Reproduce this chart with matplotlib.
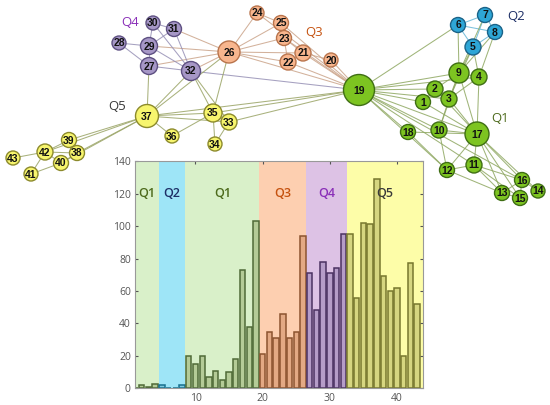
import matplotlib
matplotlib.use("Agg")
import matplotlib.pyplot as plt
import numpy as np

# ---------------- data ----------------
nodes = list(range(1, 44))
groups = (["Q1"] * 4 + ["Q2"] * 4 + ["Q1"] * 11 + ["Q3"] * 7 + ["Q4"] * 6 + ["Q5"] * 11)
hist_values = [0, 2, 1, 3, 2, 0, 0, 2, 20, 15, 20, 7, 11, 5, 10, 18, 73, 38, 103,
               21, 35, 31, 46, 31, 35, 94,
               71, 48, 78, 71, 74, 95,
               95, 56, 102, 101, 129, 69, 60, 62, 20, 77, 52]

# node layout (network drawing, pixel-like units)
node_x = [423, 435, 449, 479, 473, 458, 485, 495, 459, 439, 474, 447, 502, 538, 520, 522, 477, 408, 359,
          331, 303, 288, 284, 257, 281, 229,
          149, 119, 149, 153, 174, 191,
          229, 215, 213, 172, 147, 77, 69, 61, 31, 45, 13]
node_y = [102, 89, 99, 77, 47, 25, 15, 32, 73, 130, 165, 170, 193, 191, 198, 180, 134, 132, 90,
          60, 53, 62, 38, 13, 23, 52,
          66, 43, 46, 23, 29, 71,
          122, 144, 113, 136, 116, 153, 140, 163, 174, 152, 158]
node_r = [7.5, 8, 8, 8, 8, 7.5, 7.5, 7.5, 10, 8, 8, 7.5, 7.5, 7, 7.5, 7.5, 12, 7.5, 15.5,
          7, 8, 8, 7.5, 7, 7.5, 11,
          8.5, 7, 8.5, 7, 7.5, 9.5,
          8, 7, 9, 7, 11.5, 7.5, 7.5, 7.5, 7, 8, 7]

edges = [(6, 7), (6, 8), (6, 5), (7, 8), (7, 5), (8, 5), (5, 9), (5, 4), (8, 4), (8, 9), (6, 9), (7, 9),
         (6, 19), (5, 3),
         (19, 1), (19, 2), (19, 3), (19, 9), (19, 4), (19, 10), (19, 17), (19, 18), (19, 12),
         (19, 11), (19, 16),
         (9, 2), (9, 3), (9, 4), (9, 17), (4, 17), (4, 3), (2, 3), (2, 1), (3, 10), (3, 17),
         (1, 17), (10, 17), (18, 17), (18, 12), (10, 12), (17, 11), (17, 12), (17, 13),
         (17, 15), (17, 16), (17, 14), (11, 12), (11, 13), (11, 15), (11, 16), (13, 15),
         (15, 16), (16, 14), (13, 16), (12, 13), (9, 10), (2, 17),
         (19, 20), (19, 21), (19, 22), (19, 23), (19, 25), (19, 24), (19, 26),
         (26, 24), (26, 25), (26, 23), (26, 21), (26, 22), (24, 25), (25, 23), (23, 21),
         (23, 22), (21, 22), (21, 20),
         (26, 31), (26, 29), (26, 27), (26, 32), (28, 29), (28, 27), (29, 30), (29, 31),
         (29, 27), (29, 32), (30, 31), (30, 32), (31, 32), (27, 32), (19, 32),
         (37, 27), (37, 32), (37, 26), (37, 35), (37, 19), (37, 36), (37, 33), (35, 32),
         (35, 26), (35, 33), (35, 34), (35, 36), (33, 34), (33, 19), (35, 19),
         (37, 39), (37, 38), (37, 42), (37, 40), (39, 42), (39, 38), (42, 43), (42, 38),
         (42, 40), (40, 41), (41, 42), (38, 40), (33, 32)]

group_names = ["Q1", "Q2", "Q3", "Q4", "Q5"]
net_label_x = [500, 516, 314, 130, 117]
net_label_y = [118, 17, 33, 22, 107]

# ---------------- styles ----------------
node_fc = {"Q1": "#7dc421", "Q2": "#2ea6d6", "Q3": "#f8b68e", "Q4": "#a697c6", "Q5": "#f7f56e"}
node_ec = {"Q1": "#3f6e14", "Q2": "#1b6388", "Q3": "#b9744c", "Q4": "#5e5082", "Q5": "#8c8a2c"}
label_c = {"Q1": "#4d6a1c", "Q2": "#1d2f66", "Q3": "#c5520f", "Q4": "#8a2fb8", "Q5": "#3a3a3a"}
span_c = {"Q1": "#d9f0c9", "Q2": "#9ee5f7", "Q3": "#fdcfb0", "Q4": "#ddc2e5", "Q5": "#fdfda8"}
bar_fc = {"Q1": "#b4cb97", "Q2": "#7fc9de", "Q3": "#e3a984", "Q4": "#b59cc8", "Q5": "#d6d680"}
bar_ec = {"Q1": "#4f6a37", "Q2": "#17708e", "Q3": "#8c5430", "Q4": "#4b3262", "Q5": "#77772e"}

fig = plt.figure(figsize=(5.5, 4.05), dpi=100)
ax = fig.add_axes([0, 0, 1, 1])
ax.set_xlim(0, 550)
ax.set_ylim(405, 0)
ax.axis("off")

g = {n: grp for n, grp in zip(nodes, groups)}
for a, b in edges:
    ga, gb = g[a], g[b]
    if "Q5" in (ga, gb):
        c = "#9aa466"
    elif "Q3" in (ga, gb):
        c = "#cba48a"
    elif "Q4" in (ga, gb):
        c = "#9690b5"
    elif ga == "Q2" and gb == "Q2":
        c = "#66b6d6"
    else:
        c = "#8fa862"
    ax.plot([node_x[a - 1], node_x[b - 1]], [node_y[a - 1], node_y[b - 1]],
            color=c, lw=0.75, alpha=0.85, zorder=1)

for i, n in enumerate(nodes):
    grp = groups[i]
    circ = plt.Circle((node_x[i], node_y[i]), node_r[i], facecolor=node_fc[grp],
                      edgecolor=node_ec[grp], lw=1.0, zorder=2)
    ax.add_patch(circ)
    ax.text(node_x[i], node_y[i] + 0.5, str(n), ha="center", va="center",
            fontsize=7.5, fontweight="bold", family="Liberation Sans", color="#111111", zorder=3)

for name, lx, ly in zip(group_names, net_label_x, net_label_y):
    ax.text(lx, ly, name, ha="center", va="center", fontsize=9.5,
            color=label_c[name], family="Open Sans", zorder=3)

# ---------------- histogram inset ----------------
hx = fig.add_axes([0.2455, 0.041, 0.524, 0.561])
xmin, xmax = 1.0, 43.9
hx.set_xlim(xmin, xmax)
hx.set_ylim(0, 140)

# region spans derived from group membership
runs = []
start = 0
for i in range(1, len(groups) + 1):
    if i == len(groups) or groups[i] != groups[start]:
        runs.append((groups[start], nodes[start] - 0.5, nodes[i - 1] + 0.5))
        start = i
for k, (grp, a, b) in enumerate(runs):
    a = max(a, xmin)
    b = min(b, xmax) if k < len(runs) - 1 else xmax
    hx.axvspan(a, b, color=span_c[grp], lw=0, zorder=0)
    hx.text((a + b) / 2, 120, grp, ha="center", va="center", fontsize=9,
            color=label_c[grp], family="Open Sans", fontweight="semibold", zorder=3)

hx.bar(nodes, hist_values, width=0.8,
       color=[bar_fc[x] for x in groups], edgecolor=[bar_ec[x] for x in groups],
       lw=1.1, zorder=2)

hx.set_xticks([10, 20, 30, 40])
hx.set_yticks(range(0, 141, 20))
hx.tick_params(direction="in", length=2.5, labelsize=7.5, colors="#555555",
               top=True, right=True, pad=3)
for s in hx.spines.values():
    s.set_color("#999999")
    s.set_linewidth(0.8)
for lab in hx.get_xticklabels() + hx.get_yticklabels():
    lab.set_family("Open Sans")

fig.savefig("out.png", dpi=100)
